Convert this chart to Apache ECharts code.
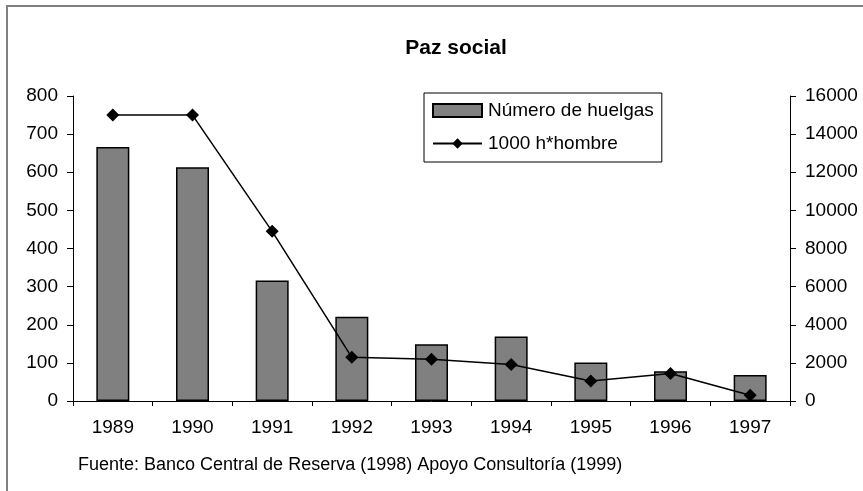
<!DOCTYPE html>
<html>
<head>
  <meta charset="UTF-8">
  <title>Paz social</title>
  <script src="https://cdn.jsdelivr.net/npm/echarts@6.0.0/dist/echarts.min.js"></script>
  <style>
    html, body { margin: 0; padding: 0; background: #fff; }
  </style>
</head>
<body>
  <div id="main" style="width: 863px; height: 491px;"></div>
  <script>
    // datos
    const years = ['1989', '1990', '1991', '1992', '1993', '1994', '1995', '1996', '1997'];
    const huelgas = [666, 613, 316, 221, 149, 169, 101, 78, 68];
    const horasHombre = [15000, 15000, 8900, 2290, 2190, 1910, 1050, 1440, 300];
    const leftTicks = { min: 0, max: 800, interval: 100 };
    const rightTicks = { min: 0, max: 16000, interval: 2000 };

    const font = 'Liberation Sans, Arial, sans-serif';
    const chart = echarts.init(document.getElementById('main'));
    const option = {
      backgroundColor: '#fff',
      animation: false,
      title: {
        text: 'Paz social',
        left: 451,
        top: 33,
        textAlign: 'center',
        textStyle: { fontFamily: font, fontSize: 21, fontWeight: 'bold', color: '#000' }
      },
      legend: {
        orient: 'vertical',
        left: 424,
        top: 93,
        padding: [8, 8, 9, 8],
        itemGap: 14,
        itemWidth: 49,
        itemHeight: 13,
        borderColor: '#000',
        borderWidth: 1,
        backgroundColor: '#fff',
        textStyle: { fontFamily: font, fontSize: 19, color: '#000', padding: [0, 0, 0, 1] },
        data: [
          { name: 'Número de huelgas', icon: 'rect' },
          { name: '1000 h*hombre' }
        ]
      },
      grid: { left: 73, right: 73, top: 96, bottom: 90 },
      xAxis: {
        type: 'category',
        data: years,
        axisLine: { lineStyle: { color: '#000', width: 1 } },
        axisTick: { show: true, length: 5, lineStyle: { color: '#000' } },
        axisLabel: { fontFamily: font, fontSize: 19, color: '#000', margin: 17 }
      },
      yAxis: [
        {
          type: 'value',
          min: leftTicks.min, max: leftTicks.max, interval: leftTicks.interval,
          axisLine: { show: true, lineStyle: { color: '#000' } },
          axisTick: { show: true, length: 6, lineStyle: { color: '#000' } },
          splitLine: { show: false },
          axisLabel: { fontFamily: font, fontSize: 19, color: '#000', margin: 15 }
        },
        {
          type: 'value',
          position: 'right',
          min: rightTicks.min, max: rightTicks.max, interval: rightTicks.interval,
          axisLine: { show: true, lineStyle: { color: '#000' } },
          axisTick: { show: true, length: 6, lineStyle: { color: '#000' } },
          splitLine: { show: false },
          axisLabel: {
            fontFamily: font, fontSize: 19, color: '#000', margin: 15,
            formatter: v => String(v)
          }
        }
      ],
      series: [
        {
          name: 'Número de huelgas',
          type: 'bar',
          yAxisIndex: 0,
          barWidth: 33,
          itemStyle: { color: '#808080', borderColor: '#000', borderWidth: 1.5 },
          data: huelgas
        },
        {
          name: '1000 h*hombre',
          type: 'line',
          yAxisIndex: 1,
          symbol: 'diamond',
          symbolSize: 13,
          itemStyle: { color: '#000' },
          lineStyle: { color: '#000', width: 1.5 },
          data: horasHombre
        }
      ],
      graphic: [
        {
          type: 'rect',
          shape: { x: 7, y: 6, width: 1000, height: 1000 },
          style: { fill: 'none', stroke: '#808080', lineWidth: 2 },
          silent: true
        },
        {
          type: 'text',
          left: 78,
          top: 456,
          style: {
            text: 'Fuente: Banco Central de Reserva (1998) Apoyo Consultoría (1999)',
            font: '18px ' + font,
            fill: '#000'
          }
        }
      ]
    };
    chart.setOption(option);
  </script>
</body>
</html>
